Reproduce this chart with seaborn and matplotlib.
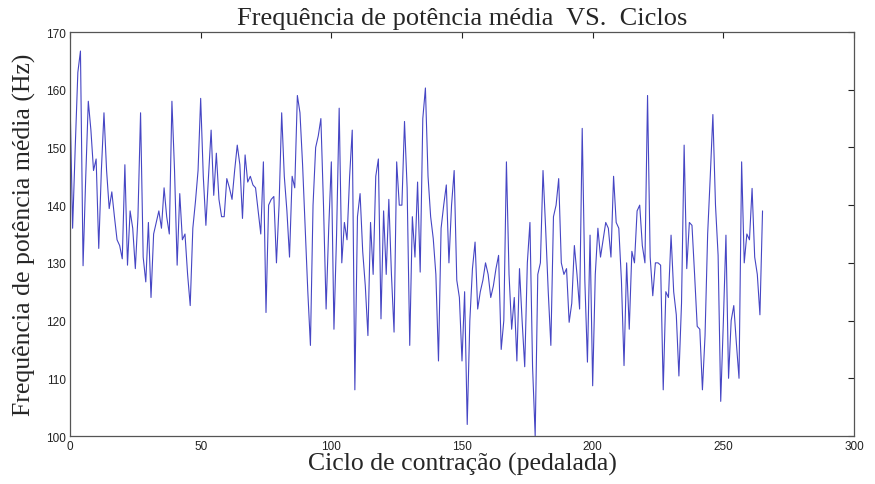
import matplotlib
matplotlib.use("Agg")
import matplotlib.pyplot as plt
import numpy as np
import pandas as pd
import seaborn as sns

# frequencia de potencia media por ciclo
freq_a = [158.5, 136, 150, 163, 166.7, 129.5, 144.6, 158, 153, 146, 148, 132.5, 146, 156, 146, 139.4,
          142.3, 138, 134, 133, 130.7, 147, 129.6, 139, 136, 129, 138, 156, 131, 126.7, 137, 124,
          135, 137, 139, 136, 143, 138, 135, 158, 146, 129.6, 142, 134, 135, 128, 122.6, 136,
          140.6, 146, 158.5, 145, 136.5, 145, 153, 141.7, 149, 141, 138, 138, 144.6, 143, 141,
          146, 150.4, 147]
freq_b = [137.7, 148.7, 144, 145, 143.5, 143, 139, 135, 147.5, 121.4, 140, 141, 141.5, 130, 140,
          156, 145, 139, 131, 145, 143, 159, 156, 147, 136, 125, 115.7, 140, 150, 152, 155, 140,
          122, 136, 147.5, 118.5, 134.8, 156.8, 130, 137, 134, 145, 153, 108, 138, 142, 132, 126,
          117.4, 137, 128, 145, 148, 120.3, 139, 128, 141, 128, 118, 147.5, 140, 140, 154.5, 143,
          115.7, 138]
freq_c = [131, 144, 128.4, 155, 160.3, 145, 138, 134.2, 128, 113, 136, 140, 143.5, 130, 140, 146,
          127, 124, 113, 125, 102, 120, 129, 133.6, 122, 125, 127, 130, 128, 124, 126, 129, 131.3,
          115, 120, 147.5, 128, 118.5, 124, 113, 129, 120, 112, 130, 137, 112, 100, 128, 130, 146,
          136, 125, 115.7, 138, 140, 144.6, 130, 128, 129, 119.7, 123, 133, 128, 122, 153.3, 127,
          112.8]
freq_d = [134.8, 108.7, 128, 136, 131, 134, 137, 136, 131, 145, 137, 136, 127, 112.2, 130, 118.5,
          132, 130, 139, 140, 133, 130, 159, 131, 124.3, 130, 130, 129.6, 108, 125, 124, 134.8,
          125, 121, 110.4, 123, 150.4, 129, 137, 136.5, 128, 119, 118.5, 108, 117.4, 135, 145,
          155.7, 140, 131.3, 106, 119.7, 134.8, 110, 120, 122.6, 116, 110, 147.5, 130, 135, 134,
          142.9, 131, 128, 121, 139]

freq = freq_a + freq_b + freq_c + freq_d
ciclos = np.arange(len(freq))

x_ticks = [0, 50, 100, 150, 200, 250, 300]
y_ticks = [100, 110, 120, 130, 140, 150, 160, 170]

df = pd.DataFrame({"ciclo": ciclos, "freq": freq})

sns.set_style("white")
plt.rcParams["font.family"] = ["Liberation Sans", "DejaVu Sans"]

fig = plt.figure(figsize=(8.75, 4.85), dpi=100)
ax = fig.add_axes([70 / 875, 48 / 485, 784 / 875, 404 / 485])

sns.lineplot(data=df, x="ciclo", y="freq", ax=ax, color="#4646c4", linewidth=0.8,
             estimator=None, sort=False)

ax.set_xlim(0, 300)
ax.set_ylim(100, 170)
ax.set_xticks(x_ticks)
ax.set_yticks(y_ticks)
ax.tick_params(direction="in", length=4, width=0.8, labelsize=8.5, colors="#222222",
               top=True, right=True, pad=3)
for s in ax.spines.values():
    s.set_color("#555555")
    s.set_linewidth(0.9)

serif = ["Liberation Serif", "DejaVu Serif"]
ax.set_title("Frequência de potência média  VS.  Ciclos", family=serif, fontsize=19, pad=6)
ax.set_xlabel("Ciclo de contração (pedalada)", family=serif, fontsize=18.5, labelpad=0)
ax.set_ylabel("Frequência de potência média (Hz)", family=serif, fontsize=18.5, labelpad=7)

fig.savefig("out.png", dpi=100)
